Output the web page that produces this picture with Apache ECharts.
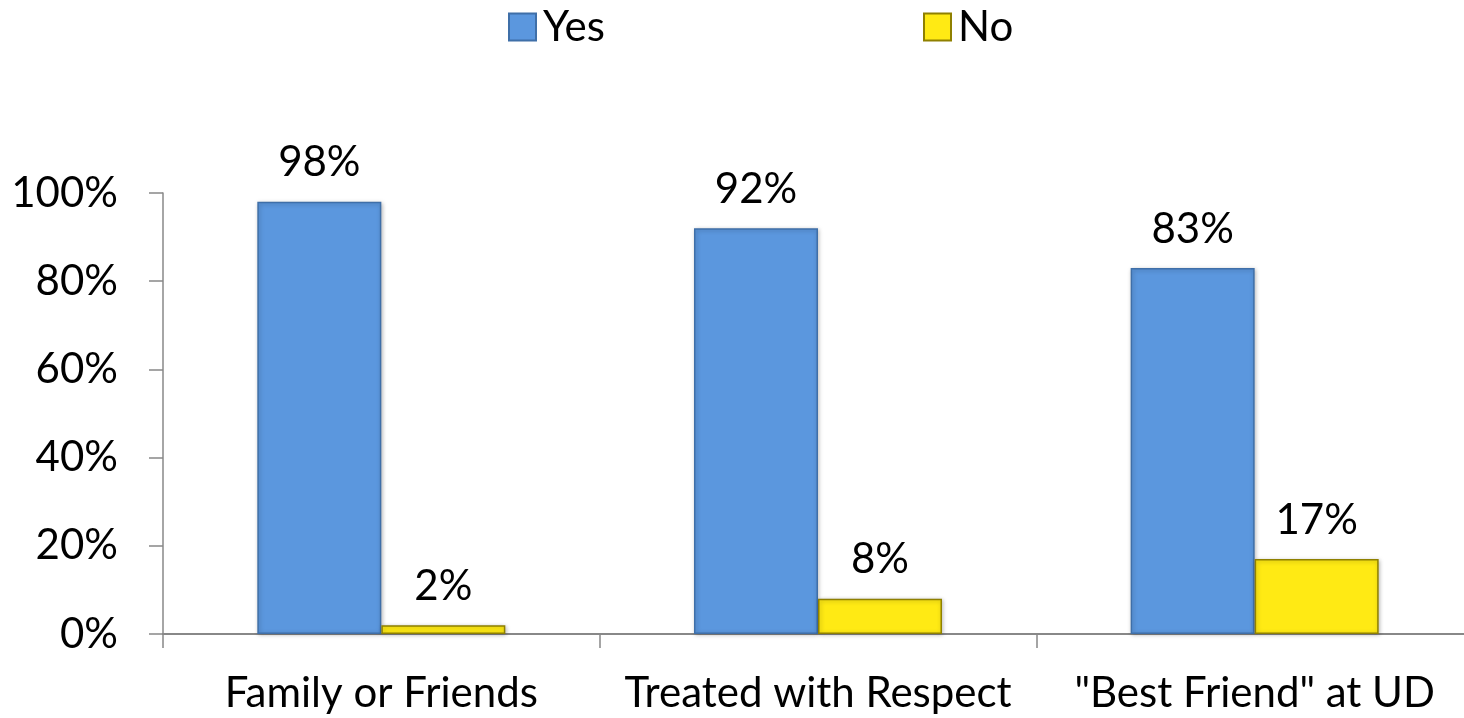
<!DOCTYPE html>
<html><head><meta charset="utf-8">
<script src="https://cdn.jsdelivr.net/npm/echarts@6/dist/echarts.min.js"></script>
<style>html,body{margin:0;padding:0;background:#fff}#c{width:1464px;height:718px}</style>
</head><body><div id="c"></div>
<script>
var categories = ['Family or Friends', 'Treated with Respect', '"Best Friend" at UD'];
var yesValues = [98, 92, 83];
var noValues = [2, 8, 17];
var yTicks = [0, 20, 40, 60, 80, 100];
var FONT = 'Lato';
var FS = 42;
var chart = echarts.init(document.getElementById('c'), null, {renderer: 'canvas'});
function barStyle(c, b) {
  return {color: c, borderColor: b, borderWidth: 1.5, shadowColor: 'rgba(0,0,0,0.25)', shadowBlur: 4, shadowOffsetX: 1, shadowOffsetY: 1};
}
chart.setOption({
  animation: false,
  textStyle: {fontFamily: FONT},
  legend: [
    {data: [{name: 'Yes', icon: 'rect'}], left: 503, top: 1, itemWidth: 27, itemHeight: 27, itemGap: 0,
     textStyle: {fontSize: FS, color: '#000', fontFamily: FONT, padding: [0,0,0,2]}},
    {data: [{name: 'No', icon: 'rect'}], left: 918, top: 1, itemWidth: 27, itemHeight: 27, itemGap: 0,
     textStyle: {fontSize: FS, color: '#000', fontFamily: FONT, padding: [0,0,0,2]}}
  ],
  grid: {left: 163, width: 1310, top: 193, height: 441, containLabel: false, outerBoundsMode: 'none'},
  xAxis: {
    type: 'category', data: categories,
    axisLine: {lineStyle: {color: '#888', width: 2}},
    axisTick: {show: true, length: 14, alignWithLabel: false, lineStyle: {color: '#888', width: 1.5}},
    axisLabel: {fontSize: FS, color: '#000', margin: 38, fontFamily: FONT, interval: 0}
  },
  yAxis: {
    type: 'value', min: 0, max: 100, interval: 20,
    axisLine: {show: true, lineStyle: {color: '#888', width: 1.5}},
    axisTick: {show: true, length: 14, inside: false, lineStyle: {color: '#888', width: 1.5}},
    splitLine: {show: false},
    axisLabel: {fontSize: FS, color: '#000', margin: 45, fontFamily: FONT,
      formatter: function (v) { return yTicks.indexOf(v) >= 0 ? v + '%' : ''; }}
  },
  series: [
    {name: 'Yes', type: 'bar', data: yesValues, barWidth: '28.4%', barGap: '0%',
     itemStyle: barStyle('#5B97DE', '#3F6FA8'),
     label: {show: true, position: 'top', distance: 18, fontSize: FS, color: '#000', fontFamily: FONT, formatter: '{c}%'}},
    {name: 'No', type: 'bar', data: noValues, barWidth: '28.4%',
     itemStyle: barStyle('#FFEA14', '#8F8000'),
     label: {show: true, position: 'top', distance: 18, fontSize: FS, color: '#000', fontFamily: FONT, formatter: '{c}%'}}
  ]
});
</script></body></html>
